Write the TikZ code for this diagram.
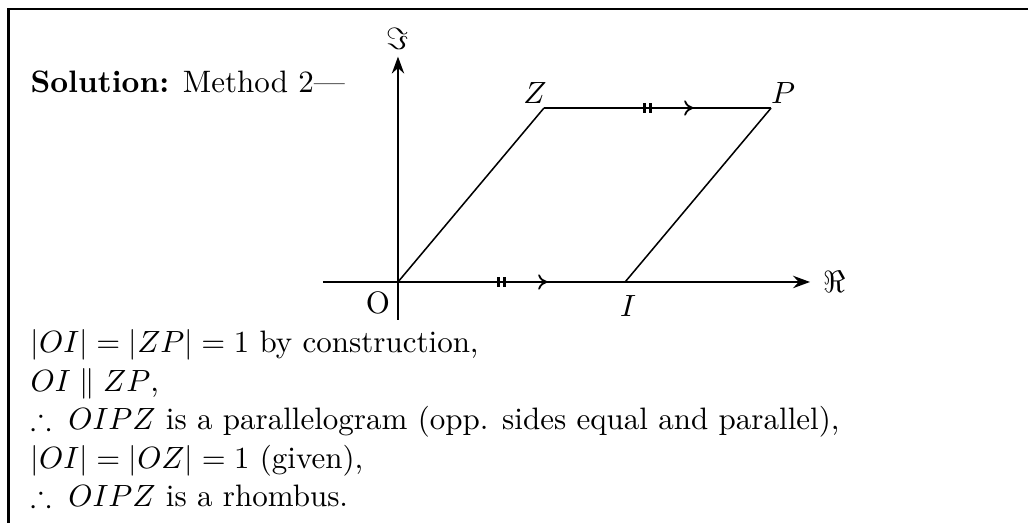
\documentclass[tikz,border=0pt]{standalone}
\usepackage{amsmath, amssymb}
\usepackage{tikz}
\usetikzlibrary{arrows.meta, decorations.markings, calc}

\begin{document}
\begin{tikzpicture}[
    every node/.style={font=\fontsize{10.1}{12.4}\selectfont},
    axis/.style={thick, -{Stealth[length=5.5pt, width=4pt]}},
    side/.style={line width=0.5pt},
    frame/.style={line width=0.8pt},
    txt/.style={anchor=base west, inner sep=0pt},
    eqmark/.style={postaction={decorate}, decoration={markings, mark=at position 0.5 with {
        \draw[semithick, -{To[length=3pt, width=5pt]}] (-0.41,0) -- (0.41,0);
        \draw[thick] (-0.15,-0.055) -- (-0.15,0.055);
        \draw[thick] (-0.08,-0.055) -- (-0.08,0.055);}}}
  ]
  \useasboundingbox (-4.556,-2.759) rectangle (7.212,3.228);

  % ----- Frame -----
  \draw[frame] (-4.46,-2.8) |- (7.3,3.126);

  % ----- Text -----
  \node[txt] (title) at (-4.213, 2.164) {\textbf{Solution:} Method 2---};
  \node[txt] (line1) at (-4.213,-0.807) {$|OI| = |ZP| = 1$ by construction,};
  \node[txt] (line2) at (-4.213,-1.248) {$OI \parallel ZP$,};
  \node[txt] (line3) at (-4.213,-1.686) {$\therefore\; OIPZ$ is a parallelogram (opp. sides equal and parallel),};
  \node[txt] (line4) at (-4.213,-2.133) {$|OI| = |OZ| = 1$ (given),};
  \node[txt] (line5) at (-4.213,-2.573) {$\therefore\; OIPZ$ is a rhombus.};

  % ----- Points -----
  \coordinate (O) at (0,0);
  \coordinate (I) at (2.6,0);
  \coordinate (Z) at (50:2.6);
  \coordinate (P) at ($(Z)+(2.6,0)$);
  \coordinate (re) at (4.717,0);
  \coordinate (im) at (0,2.58);

  % Axes
  \draw[axis] (-0.859,0) -- (re) node[right, inner sep=4pt] (relab) {$\Re$};
  \draw[axis] (0,-0.435) -- (im) node[above, inner sep=2pt] (imlab) {$\Im$};

  % Rhombus
  \draw[side] (O) -- (Z);
  \draw[side] (I) -- (P);
  \draw[side, eqmark] (O) -- (I);
  \draw[side, eqmark] (Z) -- (P);

  % Labels
  \node (olab) at (-0.229,-0.240) {O};
  \node (ilab) at (2.634,-0.275) {$I$};
  \node (zlab) at (1.569, 2.164) {$Z$};
  \node (plab) at (4.408, 2.164) {$P$};
\end{tikzpicture}
\end{document}
